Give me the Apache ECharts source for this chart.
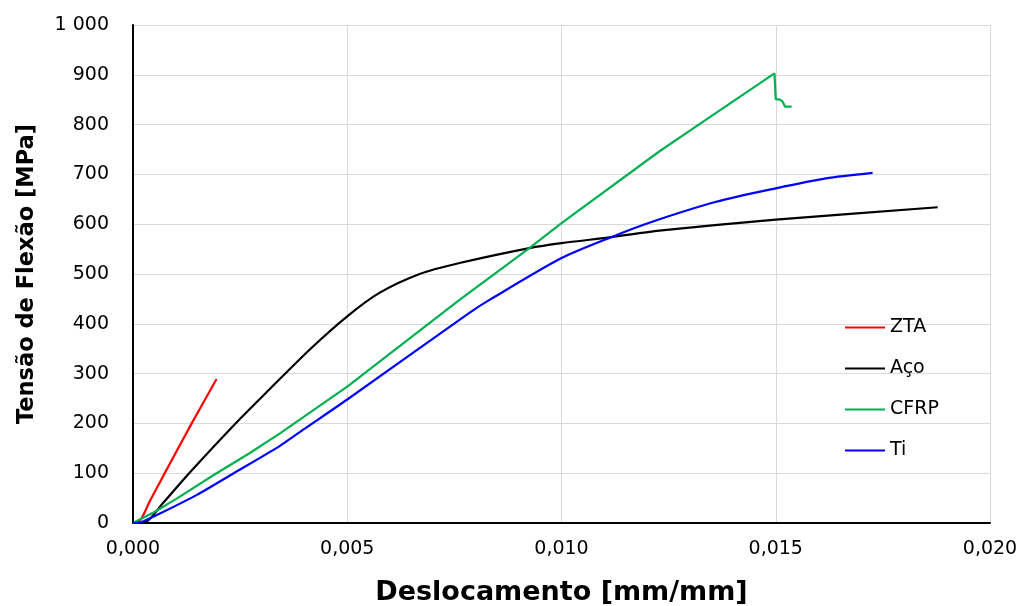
<!DOCTYPE html>
<html lang="pt">
<head>
    <meta charset="UTF-8">
    <script src="https://cdn.jsdelivr.net/npm/echarts@6/dist/echarts.min.js"></script>
    <title>Tensão de Flexão x Deslocamento</title>
    <style>
        html, body { margin: 0; padding: 0; background: #fff; }
        #chart { width: 1021px; height: 606px; }
    </style>
</head>
<body>
<div id="chart"></div>
<script>
    // dados: [deslocamento, tensão]
    const zta = [[0, 0], [0.0001, 0], [0.0004, 45], [0.00074, 100], [0.00137, 200], [0.00195, 289]];
    const aco = [[0, 0], [0.0003, 2], [0.0007, 40], [0.00131, 100], [0.00236, 197], [0.00318, 268],
        [0.00412, 348], [0.005, 415], [0.00575, 462], [0.00669, 500], [0.00762, 522], [0.00925, 552],
        [0.010, 562], [0.01116, 574], [0.01228, 587], [0.015, 609], [0.01878, 634]];
    const cfrp = [[0, 0], [0.0005, 22], [0.001, 48], [0.00195, 100], [0.0027, 139], [0.00343, 180], [0.005, 274],
        [0.00762, 448], [0.00925, 552], [0.010, 602], [0.01228, 746], [0.01322, 801], [0.01497, 903],
        [0.01500, 851], [0.01510, 850], [0.01516, 846], [0.01522, 836], [0.01537, 836]];
    const ti = [[0, 0], [0.0002, 2], [0.0007, 22], [0.0015, 57], [0.00235, 100], [0.00343, 155], [0.004, 189],
        [0.005, 248], [0.00785, 422], [0.00832, 448], [0.010, 532], [0.01116, 574], [0.01205, 603],
        [0.01361, 645], [0.015, 672], [0.01617, 692], [0.01726, 703]];

    const names = ['ZTA', 'Aço', 'CFRP', 'Ti'];
    const colors = ['#ff0000', '#000000', '#00b050', '#0000ff'];

    const font = '"DejaVu Sans", sans-serif';

    function line(name, data, color, smooth) {
        return {
            name: name,
            type: 'line',
            data: data,
            showSymbol: false,
            smooth: smooth ? 0.25 : false,
            lineStyle: { color: color, width: 2.2 },
            itemStyle: { color: color }
        };
    }

    const chart = echarts.init(document.getElementById('chart'));
    chart.setOption({
        animation: false,
        grid: { left: 133, right: 31, top: 25, bottom: 83, outerBoundsMode: 'none' },
        legend: {
            orient: 'vertical',
            left: 845,
            top: 318,
            padding: 0,
            itemWidth: 40,
            itemHeight: 14,
            itemGap: 22,
            data: names.map(n => ({ name: n, icon: 'path://M0,6L40,6L40,8L0,8Z' })),
            textStyle: { fontFamily: font, fontSize: 19, color: '#000' }
        },
        xAxis: {
            type: 'value',
            min: 0,
            max: 0.02,
            interval: 0.005,
            name: 'Deslocamento [mm/mm]',
            nameLocation: 'middle',
            nameGap: 56,
            nameTextStyle: { fontFamily: font, fontSize: 27, fontWeight: 'bold', color: '#000' },
            axisLine: { lineStyle: { color: '#000', width: 2 } },
            axisTick: { show: false },
            axisLabel: {
                fontFamily: font, fontSize: 19, color: '#000', margin: 17,
                formatter: v => v.toFixed(3).replace('.', ',')
            },
            splitLine: { lineStyle: { color: '#d9d9d9', width: 1 } }
        },
        yAxis: {
            type: 'value',
            min: 0,
            max: 1000,
            interval: 100,
            name: 'Tensão de Flexão [MPa]',
            nameLocation: 'middle',
            nameGap: 94,
            nameTextStyle: { fontFamily: font, fontSize: 22.5, fontWeight: 'bold', color: '#000' },
            axisLine: { show: true, lineStyle: { color: '#000', width: 2 } },
            axisTick: { show: false },
            axisLabel: {
                fontFamily: font, fontSize: 19, color: '#000', margin: 24,
                formatter: v => v >= 1000 ? '1 000' : String(v)
            },
            splitLine: { lineStyle: { color: '#d9d9d9', width: 1 } }
        },
        series: [
            line(names[0], zta, colors[0], true),
            line(names[1], aco, colors[1], true),
            line(names[2], cfrp, colors[2], false),
            line(names[3], ti, colors[3], true)
        ]
    });
</script>
</body>
</html>
